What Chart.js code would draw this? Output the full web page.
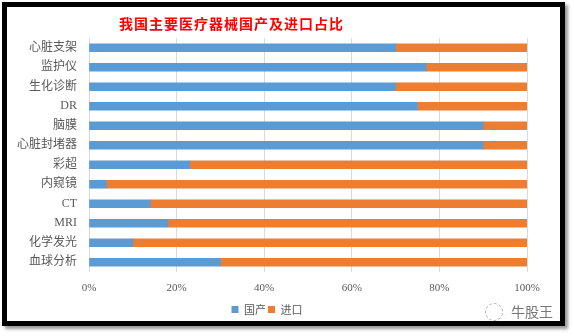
<!DOCTYPE html>
<html>
<head>
<meta charset="utf-8">
<script src="https://cdn.jsdelivr.net/npm/chart.js@4"></script>
<style>
  body { margin: 0; background: #fff; width: 574px; height: 336px; overflow: hidden; }
  #frame {
    position: absolute; left: 2px; top: 2px; width: 553px; height: 314px;
    border: 5px solid #000; background: #fff;
    box-shadow: 3px 3px 3px #999;
  }
  #wrap { position: absolute; left: 0; top: 0; width: 553px; height: 314px; }
  #title {
    position: absolute; left: 112px; top: 6px; white-space: nowrap;
    color: #ff0000; font: bold 14px/20px "Noto Sans CJK SC", sans-serif; letter-spacing: 1px;
  }
  #mark {
    position: absolute; left: 478px; top: 294px; color: #777; white-space: nowrap;
    font: 14px/20px "Noto Sans CJK SC", sans-serif;
  }
  #mark span.icon {
    display: inline-block; width: 16px; height: 16px; border: 1px dashed #aaa;
    border-radius: 50%; vertical-align: -4px; margin-right: 8px;
  }
</style>
</head>
<body>
<div id="frame">
  <div id="wrap"><canvas id="myChart"></canvas></div>
  <div id="title">我国主要医疗器械国产及进口占比</div>
  <div id="mark"><span class="icon"></span>牛股王</div>
</div>
<script>
// categories, top to bottom
const categories = ['心脏支架','监护仪','生化诊断','DR','脑膜','心脏封堵器','彩超','内窥镜','CT','MRI','化学发光','血球分析'];
// share in percent
const domestic = [70, 77, 70, 75, 90, 90, 23, 4, 14, 18, 10, 30];
const imported = [30, 23, 30, 25, 10, 10, 77, 96, 86, 82, 90, 70];
const seriesNames = ['国产', '进口'];
const xTicks = [0, 20, 40, 60, 80, 100];

const data = {
  labels: categories,
  datasets: [
    { label: seriesNames[0], data: domestic, backgroundColor: '#5b9bd5', barThickness: 8 },
    { label: seriesNames[1], data: imported, backgroundColor: '#ed7d31', barThickness: 8 }
  ]
};

const config = {
  type: 'bar',
  data: data,
  options: {
    indexAxis: 'y',
    responsive: false,
    animation: false,
    layout: { padding: { top: 31, right: 33, bottom: -4, left: 0 } },
    plugins: {
      title: { display: false },
      tooltip: { enabled: false },
      legend: {
        position: 'bottom',
        labels: {
          boxWidth: 7, boxHeight: 7, padding: 2, color: '#595959',
          font: { size: 11, family: '"Noto Sans CJK SC", sans-serif' }
        }
      }
    },
    scales: {
      x: {
        stacked: true, min: 0, max: 100,
        afterBuildTicks: function(axis) { axis.ticks = xTicks.map(v => ({ value: v })); },
        afterFit: function(axis) { axis.height = 30; },
        grid: { color: '#d9d9d9', drawTicks: false },
        border: { display: false },
        ticks: {
          padding: 10, color: '#595959',
          font: { size: 11, family: '"Liberation Serif", serif' },
          callback: v => v + '%'
        }
      },
      y: {
        stacked: true,
        afterFit: function(axis) { axis.width = 82; },
        grid: { display: false, drawTicks: false },
        border: { display: false },
        ticks: {
          padding: 12, color: '#595959',
          font: { size: 12, family: '"Liberation Serif", "Noto Sans CJK SC", serif' }
        }
      }
    }
  }
};

const canvas = document.getElementById('myChart');
canvas.width = 553;
canvas.height = 314;
const myChart = new Chart(canvas, config);
</script>
</body>
</html>
